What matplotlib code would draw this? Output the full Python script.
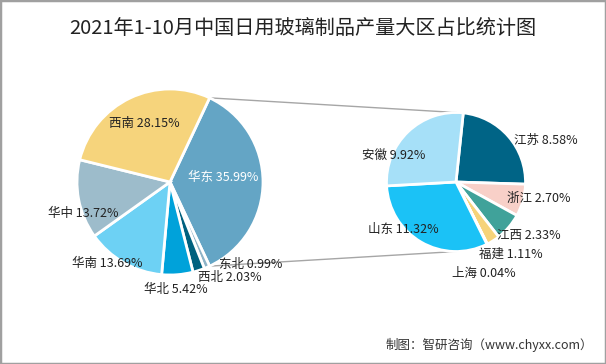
import numpy as np
import matplotlib
matplotlib.use("Agg")
import matplotlib.pyplot as plt

plt.rcParams["font.family"] = ["Noto Sans CJK SC", "DejaVu Sans"]

# ── Data ──────────────────────────────────────────────────────────────────────
region_names  = ["华东", "东北", "西北", "华北", "华南", "华中", "西南"]
region_values = [35.99, 0.99, 2.03, 5.42, 13.69, 13.72, 28.15]
region_colors = ["#64A5C5", "#8DB3C7", "#00617F", "#00A2DA",
                 "#6DD1F4", "#9DBCCB", "#F6D47C"]

prov_names  = ["江苏", "浙江", "江西", "福建", "上海", "山东", "安徽"]
prov_values = [8.58, 2.70, 2.33, 1.11, 0.04, 11.32, 9.92]
prov_colors = ["#006486", "#F8D0C8", "#40A29A", "#F6D37A",
               "#7FB0C5", "#1BC2F6", "#A6E0F8"]

# ── Layout (pixel space, y measured from top) ─────────────────────────────────
W, H = 606, 364
L_CX, L_CY, L_R = 170, 182, 93
R_CX, R_CY, R_R = 456, 182, 69.5

# label centres (px) and text colour
region_label_pos = [(223, 177), (251, 264), (230, 278), (176, 290),
                    (107, 263), (83, 213), (144, 123)]
region_label_col = ["white"] + ["#222222"] * 6
prov_label_pos = [(546, 140), (539, 198), (529, 236), (511, 254),
                  (484, 273), (403, 229), (394, 155)]

fig = plt.figure(figsize=(W / 100, H / 100), dpi=100)
ax = fig.add_axes([0, 0, 1, 1])

def yd(y):
    return H - y

# ── Left pie: first slice (华东) centred on the right-hand side ───────────────
start_l = region_values[0] / sum(region_values) * 180
ax.pie(region_values, colors=region_colors, startangle=start_l,
       counterclock=False, center=(L_CX, yd(L_CY)), radius=L_R,
       wedgeprops=dict(edgecolor="white", linewidth=2))

# ── Right pie: breakdown of 华东 ──────────────────────────────────────────────
ax.pie(prov_values, colors=prov_colors, startangle=84,
       counterclock=False, center=(R_CX, yd(R_CY)), radius=R_R,
       wedgeprops=dict(edgecolor="white", linewidth=2))

# ── Connector lines ───────────────────────────────────────────────────────────
half = np.deg2rad(start_l)
for sgn in (1, -1):
    x0 = L_CX + L_R * np.cos(half)
    y0 = yd(L_CY) + sgn * L_R * np.sin(half)
    ax.plot([x0, R_CX], [y0, yd(R_CY) + sgn * R_R],
            color="#A6A6A6", lw=1, zorder=0)

# ── Labels ────────────────────────────────────────────────────────────────────
for name, v, (x, y), c in zip(region_names, region_values,
                              region_label_pos, region_label_col):
    ax.text(x, yd(y), f"{name} {v:.2f}%", ha="center", va="center",
            fontsize=9, color=c)
for name, v, (x, y) in zip(prov_names, prov_values, prov_label_pos):
    ax.text(x, yd(y), f"{name} {v:.2f}%", ha="center", va="center",
            fontsize=9, color="#222222")

ax.text(W / 2, yd(29), "2021年1-10月中国日用玻璃制品产量大区占比统计图",
        ha="center", va="center", fontsize=14.5, fontweight="medium",
        color="#222222")
ax.text(593, yd(345), "制图：智研咨询（www.chyxx.com）",
        ha="right", va="center", fontsize=9, color="#333333")

ax.set_xlim(0, W)
ax.set_ylim(0, H)
ax.set_aspect("equal")
ax.axis("off")

# outer border
fig.patches.append(plt.Rectangle((0, 0), 1, 1, transform=fig.transFigure,
                                 fill=False, edgecolor="#A0A0A0", lw=2.5))

fig.savefig("out.png", dpi=100)
